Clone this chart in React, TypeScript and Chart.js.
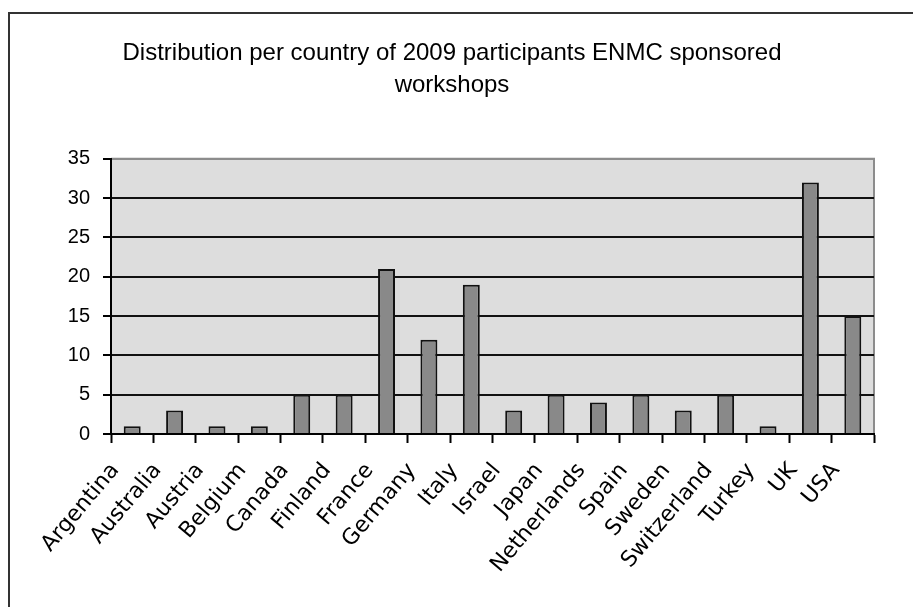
import { useEffect, useRef } from 'react';
import { Chart, registerables } from 'chart.js';

Chart.register(...registerables);

// Countries along the category axis
const countries = [
  'Argentina', 'Australia', 'Austria', 'Belgium', 'Canada', 'Finland', 'France',
  'Germany', 'Italy', 'Israel', 'Japan', 'Netherlands', 'Spain', 'Sweden',
  'Switzerland', 'Turkey', 'UK', 'USA',
];

// Number of participants per country
const participants = [1, 3, 1, 1, 5, 5, 21, 12, 19, 3, 5, 4, 5, 3, 5, 1, 32, 15];

const titleLines = [
  'Distribution per country of 2009 participants ENMC sponsored',
  'workshops',
];

const yMin = 0;
const yMax = 35;
const yStep = 5;

const SANS = "'Liberation Sans', Arial, sans-serif";
const WIDE_SANS = "'DejaVu Sans', Verdana, sans-serif";

// Page frame, grey plot background and the grey top/right plot border
const plotFrame = {
  id: 'plotFrame',
  beforeDraw(chart: Chart) {
    const { ctx, chartArea } = chart;
    const { left, top, right, bottom } = chartArea;
    ctx.save();
    ctx.fillStyle = '#ffffff';
    ctx.fillRect(0, 0, chart.width, chart.height);

    ctx.strokeStyle = '#333333';
    ctx.lineWidth = 2;
    ctx.beginPath();
    ctx.moveTo(9, chart.height);
    ctx.lineTo(9, 13);
    ctx.lineTo(chart.width, 13);
    ctx.stroke();

    ctx.fillStyle = '#dddddd';
    ctx.fillRect(left, top, right - left, bottom - top);

    ctx.strokeStyle = '#8c8c8c';
    ctx.lineWidth = 2;
    ctx.beginPath();
    ctx.moveTo(left, top);
    ctx.lineTo(right, top);
    ctx.lineTo(right, bottom);
    ctx.stroke();
    ctx.restore();
  },
};

export default function App() {
  const canvasRef = useRef<HTMLCanvasElement | null>(null);

  useEffect(() => {
    const canvas = canvasRef.current;
    if (!canvas) return;

    const chart = new Chart(canvas, {
      type: 'bar',
      data: {
        labels: countries,
        datasets: [
          {
            data: participants,
            backgroundColor: '#898989',
            borderColor: '#111111',
            borderWidth: 2,
            categoryPercentage: 0.4,
            barPercentage: 1,
          },
        ],
      },
      options: {
        responsive: false,
        animation: false,
        layout: { padding: { left: 30, right: 39, top: 0, bottom: 0 } },
        plugins: {
          legend: { display: false },
          tooltip: { enabled: false },
          title: {
            display: true,
            text: titleLines,
            color: '#000000',
            font: { family: SANS, size: 24, weight: 'normal', lineHeight: 1.33 },
            padding: { top: 37, bottom: 58 },
          },
        },
        scales: {
          x: {
            grid: {
              display: true,
              drawOnChartArea: false,
              drawTicks: true,
              tickLength: 9,
              tickColor: '#000000',
              tickWidth: 2,
              offset: true,
            },
            border: { display: true, color: '#000000', width: 2 },
            ticks: {
              autoSkip: false,
              minRotation: 50,
              maxRotation: 50,
              padding: 13,
              labelOffset: -17,
              color: '#000000',
              font: { family: WIDE_SANS, size: 22, lineHeight: 1.5 },
            },
            afterFit: (scale: any) => {
              scale.height = 173;
            },
          },
          y: {
            min: yMin,
            max: yMax,
            ticks: {
              stepSize: yStep,
              padding: 13,
              color: '#000000',
              font: { family: SANS, size: 20 },
            },
            grid: {
              color: (ctx: any) => (ctx.tick && ctx.tick.value === yMax ? '#8c8c8c' : '#111111'),
              lineWidth: 2,
              drawTicks: true,
              tickLength: 8,
              tickColor: '#000000',
            },
            border: { display: true, color: '#000000', width: 2 },
            afterFit: (scale: any) => {
              scale.width = 81;
            },
          },
        },
      },
      plugins: [plotFrame],
    });

    return () => chart.destroy();
  }, []);

  return (
    <canvas
      ref={canvasRef}
      width={913}
      height={607}
      style={{ position: 'fixed', left: 0, top: 0, display: 'block' }}
    />
  );
}
